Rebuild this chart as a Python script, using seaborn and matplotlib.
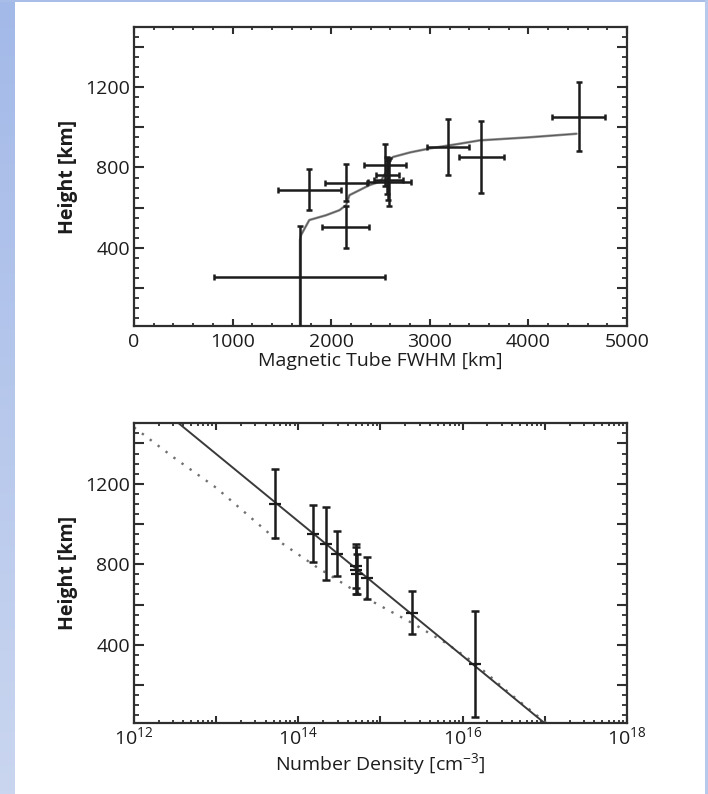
import numpy as np
import matplotlib
matplotlib.use("Agg")
import matplotlib.pyplot as plt
import matplotlib.ticker as mticker
from matplotlib.patches import Rectangle
import pandas as pd
import seaborn as sns

# ---- upper panel: magnetic tube width against height ----
tube_fwhm = [1680, 1778, 2150, 2147, 2549, 2591, 2580, 2570, 3185, 3523, 4512]
tube_fwhm_err = [870, 322, 212, 240, 212, 220, 150, 120, 212, 227, 268]
tube_height = [253, 690, 725, 504, 811, 728, 738, 760, 900, 853, 1053]
tube_height_err = [255, 104, 92, 103, 104, 121, 100, 90, 140, 180, 172]

tube_curve_fwhm = [1684, 1684, 1694, 1778, 1948, 2083, 2151, 2185, 2287, 2388,
                   2500, 2560, 2600, 2625, 2800, 3000, 3300, 3506, 4000, 4488]
tube_curve_height = [10, 440, 463, 538, 562, 587, 612, 662, 687, 712,
                     730, 780, 835, 852, 875, 895, 918, 935, 950, 968]

# ---- lower panel: number density against height ----
density = [5.2e13, 1.49e14, 2.17e14, 2.98e14, 5.0e14, 5.1e14, 5.2e14, 6.9e14, 2.45e15, 1.43e16]
density_height = [1101, 952, 903, 853, 790, 770, 752, 730, 559, 306]
density_height_err = [172, 143, 179, 110, 110, 118, 100, 105, 106, 264]

fit_density = [3.5e12, 1.0e17]
fit_height = [1500, 10]

model_density = [1.0e12, 3.0e12, 1.0e13, 5.2e13, 1.66e14, 7.4e14, 2.45e15,
                 6.3e15, 1.43e16, 3.7e16, 1.05e17]
model_height = [1480, 1332, 1180, 928, 787, 622, 507, 408, 306, 160, 10]

fwhm_ticks = [0, 1000, 2000, 3000, 4000, 5000]
height_labels = [400, 800, 1200]

sns.set_theme(style="white")
plt.rcParams["font.family"] = ["Open Sans", "DejaVu Sans"]
plt.rcParams["mathtext.fontset"] = "custom"
plt.rcParams["mathtext.rm"] = "Open Sans"
plt.rcParams["mathtext.it"] = "Open Sans:italic"
plt.rcParams["mathtext.bf"] = "Open Sans:bold"
plt.rcParams.update({
    "xtick.bottom": True, "xtick.top": True,
    "ytick.left": True, "ytick.right": True,
    "xtick.direction": "in", "ytick.direction": "in",
})

INK = "#1c1c1c"
FRAME = "#2e2e2e"
W, H = 708, 794
fig = plt.figure(figsize=(W / 100, H / 100), dpi=100)
fig.patch.set_facecolor("white")

# slide backdrop: blue gradient strip on the left and thin frame lines
strip = fig.add_axes([0, 0, 15 / W, 1], zorder=-5)
top_c = np.array([163, 185, 232]) / 255
bot_c = np.array([202, 214, 240]) / 255
grad = np.linspace(0, 1, 256)[:, None, None] * (bot_c - top_c) + top_c
strip.imshow(np.repeat(grad, 2, axis=1), aspect="auto", extent=[0, 1, 0, 1])
strip.set_axis_off()
fig.add_artist(Rectangle((0, 1 - 1.5 / H), 1, 1.5 / H, transform=fig.transFigure,
                         color="#a9bde9", lw=0, zorder=-4))
fig.add_artist(Rectangle((705 / W, 0), 3 / W, 1, transform=fig.transFigure,
                         color="#b9c9ee", lw=0, zorder=-4))


def decade_label(v, p):
    e = int(round(np.log10(v)))
    return f"$10^{{{e}}}$" if (12 <= e <= 18 and e % 2 == 0) else ""


def height_label(v, p):
    k = int(round(v))
    return f"{k}" if k in height_labels else ""


# ---------------- upper panel ----------------
ax1 = fig.add_axes([134 / W, 1 - 326 / H, 493 / W, 299 / H])
curve1 = pd.DataFrame({"fwhm": tube_curve_fwhm, "height": tube_curve_height})
sns.lineplot(data=curve1, x="fwhm", y="height", sort=False, estimator=None,
             color="#909090", lw=1.8, ax=ax1, zorder=2)
sns.lineplot(data=curve1, x="fwhm", y="height", sort=False, estimator=None,
             color="#555555", lw=0.7, ax=ax1, zorder=2)
ax1.errorbar(tube_fwhm, tube_height, xerr=tube_fwhm_err, yerr=tube_height_err,
             fmt="none", ecolor=INK, elinewidth=1.8, capsize=2.5, capthick=1.8, zorder=3)
ax1.set_xlim(0, 5000)
ax1.xaxis.set_major_locator(mticker.FixedLocator(fwhm_ticks))
ax1.xaxis.set_minor_locator(mticker.MultipleLocator(200))
ax1.set_xlabel("Magnetic Tube FWHM [km]", fontsize=14, color=INK, labelpad=1)

# ---------------- lower panel ----------------
ax2 = fig.add_axes([134 / W, 1 - 723.3 / H, 493 / W, 300 / H])
ax2.set_xscale("log")
ax2.set_xlim(1e12, 1e18)
sns.lineplot(x=model_density, y=model_height, sort=False, estimator=None,
             color="#707070", lw=1.7, linestyle=(0, (1, 3.2)), ax=ax2, zorder=2)
sns.lineplot(x=fit_density, y=fit_height, sort=False, estimator=None,
             color="#3a3a3a", lw=1.4, ax=ax2, zorder=2)
ax2.errorbar(density, density_height, yerr=density_height_err, fmt="none",
             ecolor=INK, elinewidth=1.8, capsize=3.0, capthick=1.8, zorder=3)
ax2.plot(density, density_height, ls="none", marker="_", ms=9, mew=1.6,
         color=INK, zorder=4)
ax2.set_xlim(1e12, 1e18)
ax2.xaxis.set_major_locator(mticker.LogLocator(base=10, numticks=20))
ax2.xaxis.set_minor_locator(mticker.LogLocator(base=10, subs=np.arange(2, 10), numticks=20))
ax2.xaxis.set_minor_formatter(mticker.NullFormatter())
ax2.xaxis.set_major_formatter(mticker.FuncFormatter(decade_label))
ax2.set_xlabel("Number Density [cm$^{-3}$]", fontsize=14, color=INK, labelpad=2)

# shared frame, ticks and height axis for both panels
for ax, xpad in ((ax1, 5), (ax2, 2)):
    ax.set_ylim(10, 1500)
    ax.yaxis.set_major_locator(mticker.MultipleLocator(200))
    ax.yaxis.set_minor_locator(mticker.MultipleLocator(50))
    ax.yaxis.set_major_formatter(mticker.FuncFormatter(height_label))
    ax.set_ylabel("Height [km]", fontsize=14, fontweight="bold", color=INK, labelpad=5)
    for s in ax.spines.values():
        s.set_visible(True)
        s.set_color(FRAME)
        s.set_linewidth(1.6)
    ax.tick_params(axis="both", which="both", direction="in",
                   bottom=True, left=True, top=True, right=True,
                   color=FRAME, labelcolor=INK, labelsize=14)
    ax.tick_params(axis="x", which="major", length=5, width=1.5, pad=xpad)
    ax.tick_params(axis="x", which="minor", length=2.5, width=1.3)
    ax.tick_params(axis="y", which="major", length=7, width=1.5, pad=3)
    ax.tick_params(axis="y", which="minor", length=3.6, width=1.3)

fig.savefig("out.png", dpi=100, facecolor="white")
